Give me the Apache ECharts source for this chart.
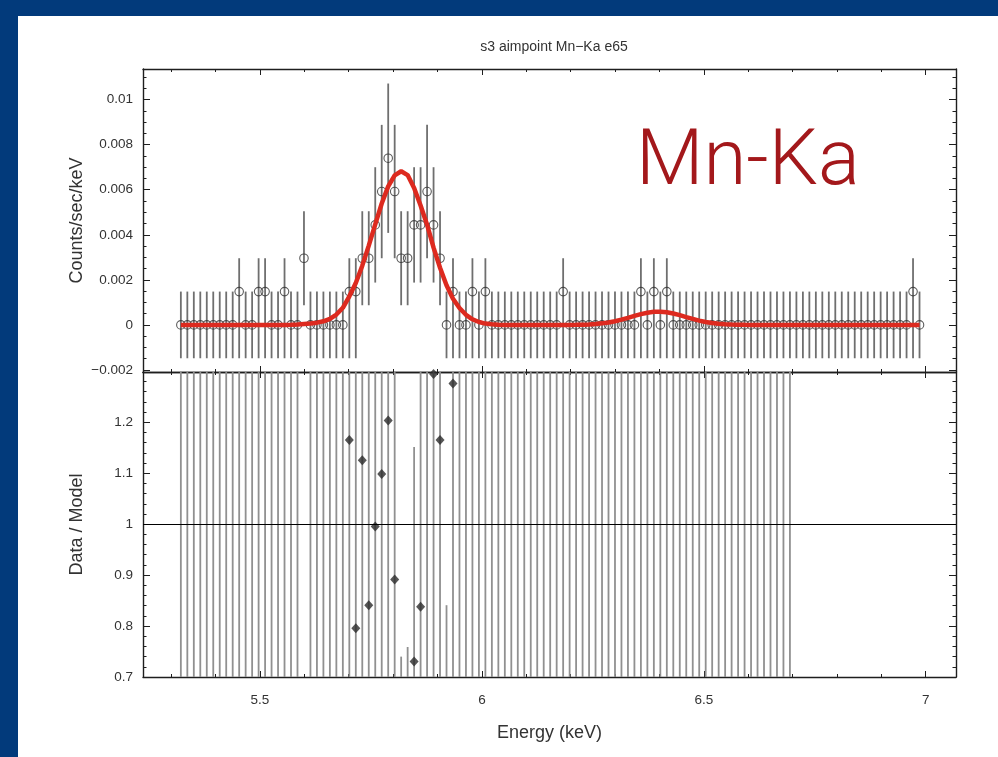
<!DOCTYPE html>
<html>
<head>
<meta charset="utf-8">
<script src="https://cdn.jsdelivr.net/npm/echarts@6/dist/echarts.min.js"></script>
<style>
  html, body { margin: 0; padding: 0; width: 998px; height: 757px; overflow: hidden; background: #023a7b; }
  #sheet { position: absolute; left: 18px; top: 16px; right: 0; bottom: 0; background: #ffffff; }
  #chart { position: absolute; left: 0; top: 0; width: 998px; height: 757px; }
</style>
</head>
<body>
<div id="sheet"></div>
<div id="chart"></div>
<script>
// ACIS PI channels shown (bin centres in keV follow from the channel width)
const firstChannel = 365;
const channelWidthKeV = 0.0146;

// Observed counts in each channel (365 ... 479)
const counts = [
  0, 0, 0, 0, 0, 0, 0, 0, 0, 1,
  0, 0, 1, 1, 0, 0, 1, 0, 0, 2,
  0, 0, 0, 0, 0, 0, 1, 1, 2, 2,
  3, 4, 5, 4, 2, 2, 3, 3, 4, 3,
  2, 0, 1, 0, 0, 1, 0, 1, 0, 0,
  0, 0, 0, 0, 0, 0, 0, 0, 0, 1,
  0, 0, 0, 0, 0, 0, 0, 0, 0, 0,
  0, 1, 0, 1, 0, 1, 0, 0, 0, 0,
  0, 0, 0, 0, 0, 0, 0, 0, 0, 0,
  0, 0, 0, 0, 0, 0, 0, 0, 0, 0,
  0, 0, 0, 0, 0, 0, 0, 0, 0, 0,
  0, 0, 0, 1, 0
];

// One count in a bin, expressed in counts/sec/keV
const rateUnit = 0.00148;

// Error bar half-lengths (in counts) for each observed count level
const errUpByCount   = [1.0, 1.0, 1.41, 1.73, 2.0, 2.24];
const errDownByCount = [1.0, 2.0, 1.41, 1.73, 2.0, 2.24];

// Folded model (counts/sec/keV) in each channel: Mn K-alpha and K-beta lines
const model = [
  0.000001, 0.000001, 0.000001, 0.000001, 0.000001, 0.000001, 0.000001, 0.000001, 0.000001, 0.000001,
  0.000001, 0.000001, 0.000001, 0.000001, 0.000001, 0.000001, 0.000001, 0.00001, 0.00002, 0.00004,
  0.00006, 0.0001, 0.00016, 0.00027, 0.00046, 0.00076, 0.00127, 0.00186, 0.00263, 0.00352,
  0.00446, 0.00539, 0.00615, 0.00664, 0.00682, 0.00665, 0.00608, 0.0053, 0.00445, 0.00343,
  0.00254, 0.00176, 0.00116, 0.00075, 0.00045, 0.00025, 0.00013, 0.00006, 0.00003, 0.00001,
  0.000001, 0.000001, 0.000001, 0.000001, 0.000001, 0.000001, 0.000001, 0.000001, 0.000001, 0.000001,
  0.000001, 0.000005, 0.000012, 0.000023, 0.000041, 0.000069, 0.00011, 0.000165, 0.000235, 0.000315,
  0.0004, 0.00048, 0.000543, 0.000582, 0.000589, 0.000562, 0.000508, 0.000433, 0.000349, 0.000266,
  0.000192, 0.00013, 0.000084, 0.000051, 0.000029, 0.000016, 0.000008, 0.000004, 0.000001, 0.000001,
  0.000001, 0.000001, 0.000001, 0.000001, 0.000001, 0, 0, 0, 0, 0,
  0, 0, 0, 0, 0, 0, 0, 0, 0, 0,
  0, 0, 0, 0, 0
];

// Axis ticks and labels
const energyLabels = [5.5, 6, 6.5, 7];
const energyMinorTicks = [5.3, 5.4, 5.5, 5.6, 5.7, 5.8, 5.9, 6.0, 6.1, 6.2, 6.3, 6.4, 6.5, 6.6, 6.7, 6.8, 6.9, 7.0];
const rateLabels = [-0.002, 0, 0.002, 0.004, 0.006, 0.008, 0.01];
const rateMinorTicks = [-0.002, -0.0015, -0.001, -0.0005, 0, 0.0005, 0.001, 0.0015, 0.002, 0.0025, 0.003,
  0.0035, 0.004, 0.0045, 0.005, 0.0055, 0.006, 0.0065, 0.007, 0.0075, 0.008, 0.0085, 0.009, 0.0095, 0.01,
  0.0105, 0.011];
const ratioLabels = [0.7, 0.8, 0.9, 1, 1.1, 1.2];
const ratioMinorTicks = [0.7, 0.72, 0.74, 0.76, 0.78, 0.8, 0.82, 0.84, 0.86, 0.88, 0.9, 0.92, 0.94, 0.96, 0.98,
  1.0, 1.02, 1.04, 1.06, 1.08, 1.1, 1.12, 1.14, 1.16, 1.18, 1.2, 1.22, 1.24, 1.26, 1.28];

// Axis ranges
const E_MIN = 5.2364, E_MAX = 7.0683;
const RATE_MIN = -0.00209, RATE_MAX = 0.01136;
const RATIO_MIN = 0.7, RATIO_MAX = 1.2986;

const FONT = '"Liberation Sans", Arial, Helvetica, sans-serif';
const FRAME = '#1e1e1e';
const TEXT = '#333333';

// ---- derived plotting tables ----
const energies = counts.map((_, i) => (firstChannel + i - 0.5) * channelWidthKeV);

const ratePoints = [];
const rateBars = [];
const modelLine = [];
const ratioBars = [];
const ratioPoints = [];

function clampedBar(x, lo, hi, min, max, out) {
  if (hi < min || lo > max) return;
  out.push([x, Math.max(lo, min), Math.min(hi, max)]);
}

counts.forEach((n, i) => {
  const e = energies[i];
  const rate = n * rateUnit;
  const up = errUpByCount[n] * rateUnit;
  const down = errDownByCount[n] * rateUnit;
  ratePoints.push([e, rate]);
  clampedBar(e, rate - down, rate + up, RATE_MIN, RATE_MAX, rateBars);
  modelLine.push([e, model[i]]);
  const m = model[i];
  if (m > 0) {
    const r = rate / m;
    clampedBar(e, (rate - down) / m, (rate + up) / m, RATIO_MIN, RATIO_MAX, ratioBars);
    if (r >= RATIO_MIN && r <= RATIO_MAX) ratioPoints.push([e, r]);
  }
});

// ---- axes ----
function xAxisDef(grid, position, ticks, tickLen, withLine, labels, name) {
  return {
    type: 'value', gridIndex: grid, position: position, min: E_MIN, max: E_MAX,
    axisLine: { show: withLine, onZero: false, lineStyle: { color: FRAME, width: 1.4 } },
    axisTick: { show: true, inside: true, length: tickLen, customValues: ticks, lineStyle: { color: FRAME, width: 1 } },
    axisLabel: labels
      ? { show: true, customValues: labels, margin: 16, fontSize: 13.5, color: TEXT, fontFamily: FONT, formatter: v => String(v) }
      : { show: false },
    splitLine: { show: false },
    name: name || '', nameLocation: 'middle', nameGap: 47, nameMoveOverlap: false,
    nameTextStyle: { fontSize: 18, color: TEXT, fontFamily: FONT }
  };
}

function yAxisDef(grid, position, min, max, ticks, tickLen, withLine, labels, fmt, name) {
  return {
    type: 'value', gridIndex: grid, position: position, min: min, max: max,
    axisLine: { show: withLine, onZero: false, lineStyle: { color: FRAME, width: 1.4 } },
    axisTick: { show: true, inside: true, length: tickLen, customValues: ticks, lineStyle: { color: FRAME, width: 1 } },
    axisLabel: labels
      ? { show: true, customValues: labels, margin: 10, fontSize: 13.5, color: TEXT, fontFamily: FONT, formatter: fmt }
      : { show: false },
    splitLine: { show: false },
    name: name || '', nameLocation: 'middle', nameGap: 57, nameMoveOverlap: false,
    nameTextStyle: { fontSize: 18, color: TEXT, fontFamily: FONT }
  };
}

const rateFmt = v => String(parseFloat(v.toFixed(4))).replace('-', '\u2212');
const ratioFmt = v => String(parseFloat(v.toFixed(2)));

const rateMajorTicks = rateLabels;
const ratioMajorTicks = ratioLabels;
const energyMajorTicks = energyLabels;

const panelTop = { left: 143, top: 69, width: 813, height: 303 };
const panelBottom = { left: 143, top: 372, width: 813, height: 305 };

const option = {
  animation: false,
  title: {
    text: 's3 aimpoint Mn\u2212Ka e65',
    left: 549, top: 35, textAlign: 'center',
    textStyle: { fontSize: 14, fontWeight: 'normal', color: TEXT, fontFamily: FONT }
  },
  grid: [
    Object.assign({}, panelTop),
    Object.assign({}, panelTop),
    Object.assign({}, panelBottom),
    Object.assign({}, panelBottom)
  ],
  xAxis: [
    xAxisDef(0, 'bottom', energyMinorTicks, 3, true, null),
    xAxisDef(0, 'top', energyMinorTicks, 3, true, null),
    xAxisDef(1, 'bottom', energyMajorTicks, 6, false, null),
    xAxisDef(1, 'top', energyMajorTicks, 6, false, null),
    xAxisDef(2, 'bottom', energyMinorTicks, 3, true, energyLabels, 'Energy (keV)'),
    xAxisDef(2, 'top', energyMinorTicks, 3, true, null),
    xAxisDef(3, 'bottom', energyMajorTicks, 6, false, null),
    xAxisDef(3, 'top', energyMajorTicks, 6, false, null)
  ],
  yAxis: [
    yAxisDef(0, 'left', RATE_MIN, RATE_MAX, rateMinorTicks, 3.5, true, rateLabels, rateFmt, 'Counts/sec/keV'),
    yAxisDef(0, 'right', RATE_MIN, RATE_MAX, rateMinorTicks, 3.5, true, null),
    yAxisDef(1, 'left', RATE_MIN, RATE_MAX, rateMajorTicks, 7, false, null),
    yAxisDef(1, 'right', RATE_MIN, RATE_MAX, rateMajorTicks, 7, false, null),
    yAxisDef(2, 'left', RATIO_MIN, RATIO_MAX, ratioMinorTicks, 3.5, true, ratioLabels, ratioFmt, 'Data / Model'),
    yAxisDef(2, 'right', RATIO_MIN, RATIO_MAX, ratioMinorTicks, 3.5, true, null),
    yAxisDef(3, 'left', RATIO_MIN, RATIO_MAX, ratioMajorTicks, 7, false, null),
    yAxisDef(3, 'right', RATIO_MIN, RATIO_MAX, ratioMajorTicks, 7, false, null)
  ],
  graphic: [{
    type: 'text', silent: true, z: 10,
    style: {
      text: 'Mn-Ka', x: 636, y: 164, verticalAlign: 'middle',
      font: '300 78px Roboto, "Liberation Sans", sans-serif', fill: '#a3181b'
    }
  }],
  series: [
    {
      name: 'rate errors', type: 'custom', xAxisIndex: 0, yAxisIndex: 0, z: 2,
      data: rateBars, encode: { x: 0, y: [1, 2] },
      renderItem: (params, api) => {
        const a = api.coord([api.value(0), api.value(1)]);
        const b = api.coord([api.value(0), api.value(2)]);
        return { type: 'line', shape: { x1: a[0], y1: a[1], x2: b[0], y2: b[1] },
                 style: { stroke: '#6f6f6f', lineWidth: 1.8 } };
      }
    },
    {
      name: 'rate', type: 'scatter', xAxisIndex: 0, yAxisIndex: 0, z: 3,
      data: ratePoints, symbol: 'circle', symbolSize: 8.5,
      itemStyle: { color: 'rgba(255,255,255,0)', borderColor: '#333', borderWidth: 1.1 }
    },
    {
      name: 'model', type: 'line', xAxisIndex: 0, yAxisIndex: 0, z: 4,
      data: modelLine, showSymbol: false, symbol: 'none',
      lineStyle: { color: '#dd2a1f', width: 4.5 }
    },
    {
      name: 'ratio errors', type: 'custom', xAxisIndex: 4, yAxisIndex: 4, z: 2,
      data: ratioBars, encode: { x: 0, y: [1, 2] },
      renderItem: (params, api) => {
        const a = api.coord([api.value(0), api.value(1)]);
        const b = api.coord([api.value(0), api.value(2)]);
        return { type: 'line', shape: { x1: a[0], y1: a[1], x2: b[0], y2: b[1] },
                 style: { stroke: '#909090', lineWidth: 1.8 } };
      }
    },
    {
      name: 'ratio', type: 'scatter', xAxisIndex: 4, yAxisIndex: 4, z: 3,
      data: ratioPoints, symbol: 'diamond', symbolSize: [9, 10],
      itemStyle: { color: '#2a2a2a' },
      markLine: {
        silent: true, symbol: ['none', 'none'], label: { show: false },
        lineStyle: { color: '#000', width: 1.2, type: 'solid' },
        data: [{ yAxis: 1 }]
      }
    }
  ]
};

const chart = echarts.init(document.getElementById('chart'), null, { renderer: 'canvas' });
chart.setOption(option);
</script>
</body>
</html>
